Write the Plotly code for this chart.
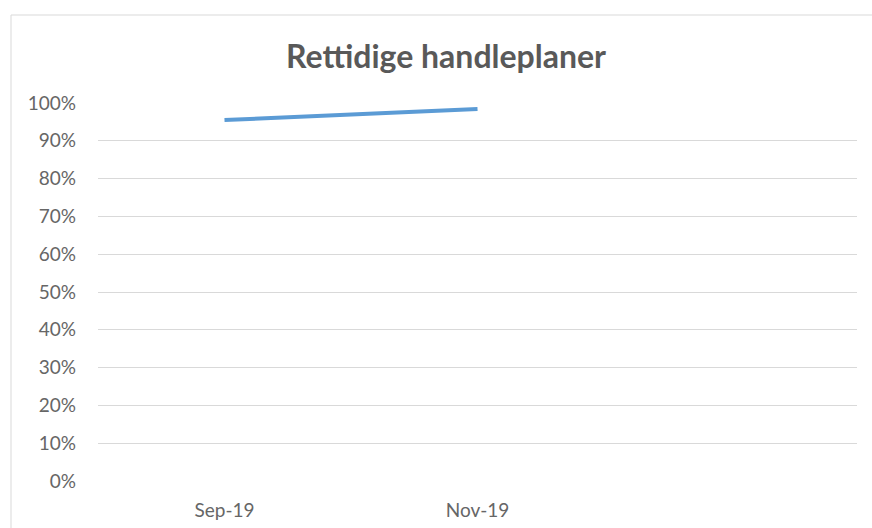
import plotly.graph_objects as go

months = ["Sep-19", "Nov-19"]
rettidige = [0.955, 0.984]
y_ticks = [0, 0.1, 0.2, 0.3, 0.4, 0.5, 0.6, 0.7, 0.8, 0.9, 1.0]
y_ticklabels = ["0%", "10%", "20%", "30%", "40%", "50%", "60%", "70%", "80%", "90%", "100%"]

W, H = 872, 528
L, R, T, B = 98, 15, 103, 47

FONT = "Lato, Open Sans, sans-serif"

fig = go.Figure()
fig.add_trace(go.Scatter(
    x=months, y=rettidige, mode="lines",
    line=dict(color="#5B9BD5", width=4),
    hoverinfo="skip", showlegend=False,
))

pw = W - L - R
ph = H - T - B
fig.add_shape(
    type="rect", xref="paper", yref="paper",
    x0=(11 - L) / pw, x1=(W + 10 - L) / pw,
    y0=-(B + 10) / ph, y1=1 + (T - 15) / ph,
    line=dict(color="#D9D9D9", width=1), layer="below",
)

fig.update_layout(
    width=W, height=H,
    margin=dict(l=L, r=R, t=T, b=B, autoexpand=False),
    paper_bgcolor="white", plot_bgcolor="white",
    title=dict(
        text="<b>Rettidige handleplaner</b>",
        x=446 / W, xanchor="center", y=1 - 57 / H, yanchor="middle",
        font=dict(family=FONT, size=32, color="#595959"),
    ),
    xaxis=dict(
        type="category", range=[-0.5, 2.5], automargin=False,
        showgrid=False, showline=False, zeroline=False, ticks="",
        tickfont=dict(family=FONT, size=19, color="#666666"),
        ticklabelstandoff=16,
    ),
    yaxis=dict(
        range=[0, 1], tickvals=y_ticks, ticktext=y_ticklabels, automargin=False,
        showgrid=True, gridcolor="#D9D9D9", gridwidth=1,
        zeroline=False, showline=False, ticks="",
        tickfont=dict(family=FONT, size=19, color="#666666"),
        ticklabelstandoff=21,
    ),
)

fig.write_html(
    "out.html",
    config={"displayModeBar": False},
    post_script="document.body.style.margin='0';document.body.style.padding='0';",
)
